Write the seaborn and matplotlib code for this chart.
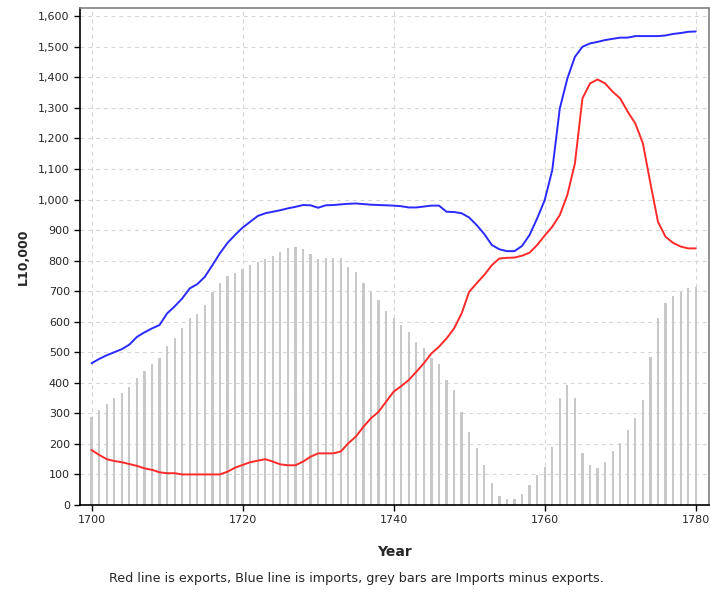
"""
Imports, exports and trade balance, 1700-1780.
"""

import matplotlib.pyplot as plt
import matplotlib.ticker as mticker
import numpy as np
import pandas as pd
import seaborn as sns

years = list(range(1700, 1781))

# Blue line: imports (L10,000)
imports = [
    464, 478, 490, 500, 510, 525, 550, 565, 578, 589,
    627, 650, 676, 709, 723, 747, 785, 824, 858, 884,
    908, 927, 946, 955, 960, 965, 971, 976, 982, 981,
    973, 981, 982, 984, 986, 987, 985, 983, 982, 981,
    980, 978, 974, 974, 977, 980, 980, 960, 959, 955,
    941, 916, 887, 851, 837, 831, 831, 848, 884, 938,
    998, 1096, 1298, 1396, 1467, 1500, 1511, 1516, 1522, 1526,
    1530, 1530, 1535, 1535, 1535, 1535, 1537, 1542, 1545, 1549,
    1550,
]

# Red line: exports (L10,000)
exports = [
    180, 164, 150, 144, 140, 134, 128, 120, 115, 107,
    104, 104, 100, 100, 100, 100, 100, 100, 109, 122,
    131, 140, 145, 150, 142, 133, 130, 130, 142, 158,
    169, 169, 169, 175, 202, 224, 256, 284, 305, 338,
    371, 389, 409, 436, 464, 496, 518, 545, 578, 627,
    698, 726, 753, 785, 807, 809, 810, 816, 826, 851,
    882, 911, 949, 1015, 1118, 1331, 1380, 1393, 1380, 1353,
    1331, 1287, 1249, 1184, 1053, 927, 878, 858, 846, 840,
    840,
]

# Grey bars: imports minus exports
balance = [
    289, 311, 331, 351, 365, 385, 417, 440, 461, 480,
    520, 545, 581, 611, 625, 655, 698, 726, 751, 760,
    771, 785, 794, 805, 815, 829, 840, 845, 837, 821,
    805, 810, 810, 807, 780, 764, 726, 698, 671, 636,
    611, 589, 567, 535, 513, 480, 460, 409, 376, 305,
    240, 185, 131, 71, 29, 21, 21, 35, 65, 98,
    123, 191, 351, 393, 351, 171, 131, 122, 140, 177,
    202, 245, 284, 344, 485, 611, 660, 685, 698, 709,
    712,
]

df = pd.DataFrame({'year': years, 'imports': imports,
                   'exports': exports, 'balance': balance})

sns.set_style('white')
plt.rcParams['font.family'] = ['DejaVu Sans']

fig = plt.figure(figsize=(7.1, 5.92), dpi=100)
ax = fig.add_axes([0.113, 0.147, 0.885, 0.839])

# Grid behind everything
ax.set_axisbelow(True)
ax.grid(True, color='#d6d6d6', linestyle=(0, (3.5, 3.5)), linewidth=0.8)

bars = ax.bar(df['year'], df['balance'], width=0.3, color='#c8c8c8',
              linewidth=0, zorder=2)
for b in bars:
    b.set_antialiased(False)

sns.lineplot(data=df, x='year', y='exports', color='#ff2a2a',
             linewidth=1.4, ax=ax, zorder=3)
sns.lineplot(data=df, x='year', y='imports', color='#2a2aff',
             linewidth=1.4, ax=ax, zorder=3)

ax.set_xlim(1698.5, 1781.7)
ax.set_ylim(0, 1626)
ax.set_xticks(np.arange(1700, 1781, 20))
ax.set_yticks(np.arange(0, 1601, 100))
ax.yaxis.set_major_formatter(mticker.StrMethodFormatter('{x:,.0f}'))
ax.tick_params(axis='both', labelsize=8, length=4, width=1,
               color='black', direction='out', left=True, bottom=True)

for side in ['left', 'bottom']:
    ax.spines[side].set_color('black')
    ax.spines[side].set_linewidth(1.2)
for side in ['top', 'right']:
    ax.spines[side].set_color('#808080')
    ax.spines[side].set_linewidth(1.2)

ax.set_xlabel('Year', fontsize=10, fontweight='bold', labelpad=14)
ax.set_ylabel('L10,000', fontsize=9, fontweight='bold', labelpad=6)

fig.text(0.502, 0.012,
         'Red line is exports, Blue line is imports, grey bars are Imports minus exports.',
         ha='center', va='bottom', fontsize=9.2)

fig.savefig('out.png', dpi=100)
